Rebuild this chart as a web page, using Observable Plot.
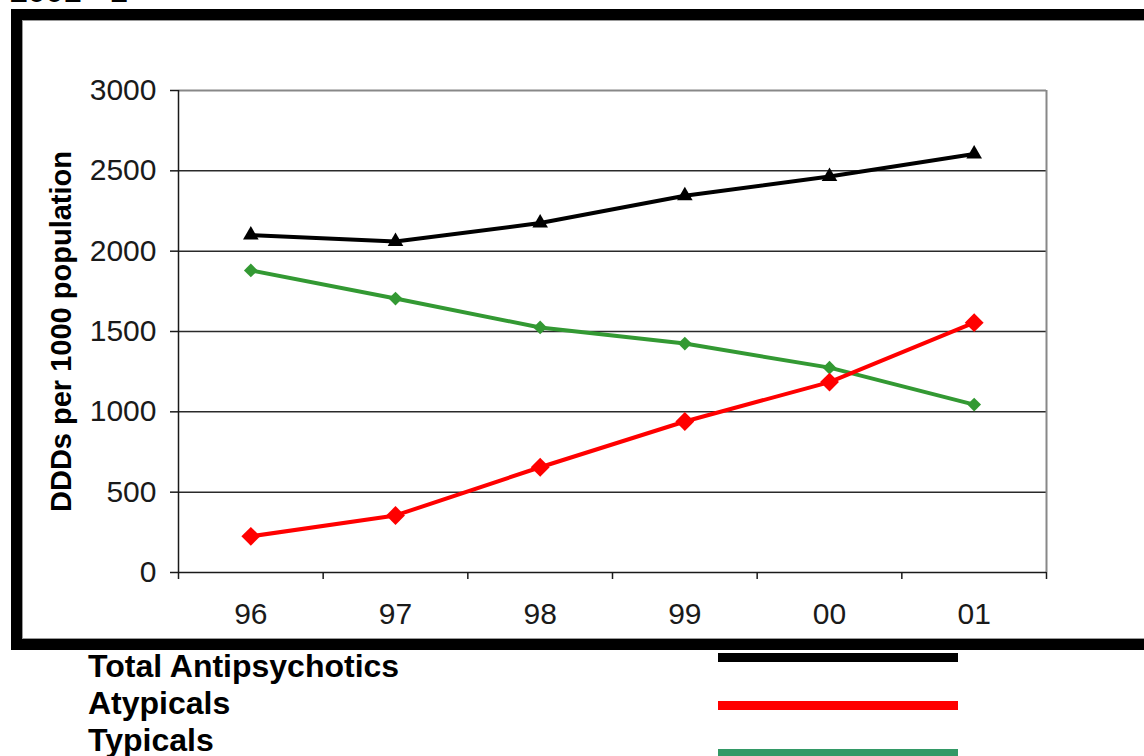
<!DOCTYPE html>
<html>
<head>
<meta charset="utf-8">
<script src="https://cdn.jsdelivr.net/npm/d3@7"></script>
<script src="https://cdn.jsdelivr.net/npm/@observablehq/plot@0.6"></script>
<style>
  html, body { margin: 0; padding: 0; background: #fff; }
  #wrap { position: relative; width: 1144px; height: 756px; overflow: hidden; background: #fff;
          font-family: "Liberation Sans", Arial, sans-serif; }
  #topText { position: absolute; left: 10px; top: -25px; font-size: 32px; font-weight: bold;
             line-height: 32px; color: #000; white-space: nowrap; }
  #chart { position: absolute; left: 0; top: 0; }
  #frame { position: absolute; left: 11px; top: 9px; width: 1200px; height: 619px;
           border: 11px solid #000; border-right: none; box-shadow: inset 1px 1px 0 #999, inset 0 -1px 0 #999; }
  #legendText { position: absolute; left: 88px; top: 648px; font-size: 32px; font-weight: bold;
                line-height: 37px; color: #000; white-space: nowrap; }
  .sw { position: absolute; left: 718px; width: 240px; height: 9px; }
</style>
</head>
<body>
<div id="wrap">
  <div id="topText">2001 - 1</div>
  <div id="chart"></div>
  <div id="frame"></div>
  <div id="legendText"></div>
</div>
<script>
const categories = ["96", "97", "98", "99", "00", "01"];
const totalAntipsychotics = [2100, 2060, 2175, 2345, 2465, 2605];
const atypicals = [225, 355, 655, 940, 1185, 1555];
const typicals = [1880, 1705, 1525, 1425, 1275, 1045];
const yTicks = [0, 500, 1000, 1500, 2000, 2500, 3000];
const seriesNames = ["Total Antipsychotics", "Atypicals", "Typicals"];
const seriesColors = ["#000000", "#ff0000", "#339933"];
const legendColors = ["#000000", "#ff0000", "#339966"];

const seriesValues = [totalAntipsychotics, atypicals, typicals];
const data = seriesNames.flatMap((name, s) =>
  categories.map((c, i) => ({series: name, cat: c, idx: i, value: seriesValues[s][i]})));
const bySeries = name => data.filter(d => d.series === name);
const boundaries = d3.range(categories.length + 1).map(i => i - 0.5);

const chart = Plot.plot({
  width: 1144,
  height: 650,
  marginLeft: 178,
  marginRight: 98,
  marginTop: 90,
  marginBottom: 78,
  style: {background: "transparent", fontFamily: "'Liberation Sans', Arial, sans-serif", fontSize: "30px", color: "#1a1a1a"},
  x: {type: "linear", domain: [-0.5, categories.length - 0.5]},
  y: {domain: [0, 3000]},
  marks: [
    Plot.ruleY(yTicks.filter(t => t > 0 && t < 3000), {stroke: "#2a2a2a", strokeWidth: 1.5}),
    Plot.ruleY([3000], {stroke: "#888", strokeWidth: 2}),
    Plot.ruleX([categories.length - 0.5], {stroke: "#888", strokeWidth: 2}),
    Plot.ruleX([-0.5], {stroke: "#1a1a1a", strokeWidth: 1.5}),
    Plot.ruleY([0], {stroke: "#1a1a1a", strokeWidth: 1.5}),
    Plot.axisY({ticks: yTicks, tickSize: 8, tickPadding: 14, tickFormat: d => String(d), label: null, strokeWidth: 1.5, fontSize: 30}),
    Plot.axisX({ticks: boundaries, tickSize: 7, tickFormat: () => "", label: null, strokeWidth: 1.5}),
    Plot.axisX({ticks: d3.range(categories.length), tickSize: 0, tickPadding: 30,
                tickFormat: i => categories[i], label: null, fontSize: 30}),
    Plot.text(["DDDs per 1000 population"], {frameAnchor: "left", textAnchor: "middle", dx: -117, rotate: -90,
                fontWeight: "bold", fontSize: 29, fill: "#000"}),
    Plot.line(bySeries("Typicals"), {x: "idx", y: "value", stroke: seriesColors[2], strokeWidth: 4}),
    Plot.line(bySeries("Atypicals"), {x: "idx", y: "value", stroke: seriesColors[1], strokeWidth: 4}),
    Plot.line(bySeries("Total Antipsychotics"), {x: "idx", y: "value", stroke: seriesColors[0], strokeWidth: 4}),
    Plot.dot(bySeries("Typicals"), {x: "idx", y: "value", symbol: "diamond2", r: 6.2, fill: seriesColors[2], stroke: null}),
    Plot.dot(bySeries("Atypicals"), {x: "idx", y: "value", symbol: "diamond2", r: 8.5, fill: seriesColors[1], stroke: null}),
    Plot.dot(bySeries("Total Antipsychotics"), {x: "idx", y: "value", symbol: "triangle", r: 5.8, fill: seriesColors[0], stroke: null})
  ]
});
document.getElementById("chart").appendChild(chart);

const legendText = document.getElementById("legendText");
legendText.innerHTML = seriesNames.join("<br>");
const swatchTops = [653, 701, 749];
const wrap = document.getElementById("wrap");
seriesNames.forEach((n, i) => {
  const d = document.createElement("div");
  d.className = "sw";
  d.style.top = swatchTops[i] + "px";
  d.style.background = legendColors[i];
  wrap.appendChild(d);
});
</script>
</body>
</html>
